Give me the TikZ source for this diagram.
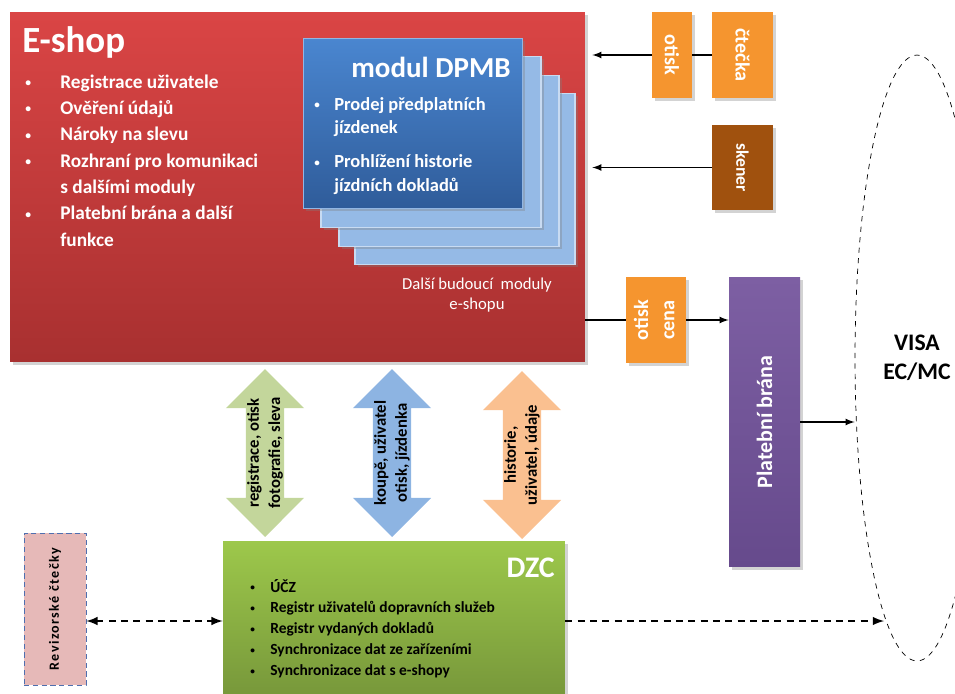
\documentclass[tikz,border=0pt]{standalone}
\usepackage{fontspec}
\setmainfont{Carlito}
\usepackage{graphicx}
\usepackage{tikz}
\usetikzlibrary{arrows}
\usetikzlibrary{shapes.geometric,shapes.arrows,shadows}

\definecolor{shopred}{HTML}{DA4545}
\definecolor{shopreddark}{HTML}{A83030}
\definecolor{dpmbblue}{HTML}{4A86D0}
\definecolor{dpmbbluedark}{HTML}{2F5C9A}
\definecolor{modblue}{HTML}{95BAE6}
\definecolor{modedge}{HTML}{C8DBF2}
\definecolor{devorange}{HTML}{F5952F}
\definecolor{devbrown}{HTML}{A0510E}
\definecolor{gatepurple}{HTML}{7D5FA3}
\definecolor{gatepurpledark}{HTML}{664A8C}
\definecolor{dzcgreen}{HTML}{9DC84B}
\definecolor{dzcgreendark}{HTML}{76963A}
\definecolor{arrgreen}{HTML}{C3D69B}
\definecolor{arrblue}{HTML}{8DB4E2}
\definecolor{arrpeach}{HTML}{FAC090}
\definecolor{revpink}{HTML}{E6B9B8}
\definecolor{revedge}{HTML}{4F6FAF}

\newcommand{\bul}{\raisebox{0.15ex}{\scalebox{0.6}{\textbullet}}}

\tikzset{
	box/.style={rectangle, inner sep=0pt, drop shadow={opacity=0.35, shadow xshift=1.5pt, shadow yshift=-1.5pt}},
	device/.style={box, fill=devorange, text=white, font=\fontsize{11.5}{15}\selectfont\bfseries},
	modul/.style={box, fill=modblue, draw=modedge, line width=1pt, minimum width=4.4cm, minimum height=3.42cm},
	blockarrow/.style={double arrow, double arrow head extend=0.4cm, minimum height=3.36cm, inner xsep=2pt, inner ysep=0.5pt, rotate=90, align=center, font=\fontsize{9.5}{12}\selectfont\bfseries},
}

\begin{document}
\begin{tikzpicture}[x=0.02cm, y=-0.02cm]
	\useasboundingbox (0,0) rectangle (955,693);
	\clip (0,0) rectangle (955,693);

	% e-shop
	\node[box, top color=shopred, bottom color=shopreddark, minimum width=11.5cm, minimum height=7cm](eshop) at (297.5,187) {};
	\node[anchor=base west, inner sep=0pt, text=white, font=\fontsize{21}{24}\selectfont\bfseries](eshoptitle) at (22,52) {E-shop};
	\node[anchor=base west, inner sep=0pt, text=white, font=\fontsize{11}{15}\selectfont\bfseries](eshoplist) at (25,88) {\begin{tabular}[t]{@{}p{0.7cm}@{}l@{}}
		\bul & Registrace uživatele\\
		\bul & Ověření údajů\\
		\bul & Nároky na slevu\\
		\bul & Rozhraní pro komunikaci\\
		& s dalšími moduly\\
		\bul & Platební brána a další\\
		& funkce
	\end{tabular}};

	% moduly
	\node[modul](mod3) at (465,179) {};
	\node[modul](mod2) at (449,161) {};
	\node[modul](mod1) at (431,142) {};
	\node[box, top color=dpmbblue, bottom color=dpmbbluedark, draw=dpmbblue!60!white, minimum width=4.38cm, minimum height=3.4cm](dpmb) at (412.5,123) {};
	\node[anchor=base east, inner sep=0pt, text=white, font=\fontsize{16.5}{20}\selectfont\bfseries](dpmbtitle) at (511,77) {modul DPMB};
	\node[anchor=base west, inner sep=0pt, text=white, font=\fontsize{10.5}{13.6}\selectfont\bfseries](dpmblist) at (314,110) {\begin{tabular}[t]{@{}p{0.4cm}@{}l@{}}
		\bul & Prodej předplatních\\
		& jízdenek\\[5.7pt]
		\bul & Prohlížení historie\\
		& jízdních dokladů
	\end{tabular}};
	\node[text=white, align=center, inner sep=0pt, font=\fontsize{9.5}{11.5}\selectfont](future) at (477,295) {Další budoucí\ \ moduly\\e-shopu};

	% zarizeni
	\node[device, minimum width=0.8cm, minimum height=1.72cm](otisk) at (672,55) {\rotatebox{-90}{otisk}};
	\node[device, minimum width=1.22cm, minimum height=1.72cm](ctecka) at (742.5,55) {\rotatebox{-90}{čtečka}};
	\node[device, fill=devbrown, minimum width=1.22cm, minimum height=1.7cm, font=\fontsize{10}{12}\selectfont\bfseries](skener) at (742.5,167.5) {\rotatebox{-90}{skener}};
	\node[device, minimum width=1.2cm, minimum height=1.72cm](otiskcena) at (656,320) {\rotatebox{90}{\begin{tabular}{@{}c@{}}otisk\\cena\end{tabular}}};
	\node[box, top color=gatepurple, bottom color=gatepurpledark, minimum width=1.42cm, minimum height=5.8cm, text=white, font=\fontsize{12.5}{15}\selectfont\bfseries](brana) at (764.5,422) {\rotatebox{90}{Platební brána}};
	\node[ellipse, draw, dashed, minimum width=2.48cm, minimum height=12.12cm, align=center, font=\fontsize{13.5}{16.5}\selectfont\bfseries](visa) at (917,358) {VISA\\EC/MC};

	% toky mezi e-shopem a DZC
	\node[blockarrow, fill=arrgreen](arrreg) at (265,453) {registrace, otisk\\fotografie, sleva};
	\node[blockarrow, fill=arrblue](arrkoupe) at (392,453) {koupě, uživatel\\otisk, jízdenka};
	\node[blockarrow, fill=arrpeach](arrhist) at (522,455) {historie,\\uživatel, údaje};

	% DZC
	\node[box, top color=dzcgreen, bottom color=dzcgreendark, minimum width=6.84cm, minimum height=3.2cm](dzc) at (394,621) {};
	\node[anchor=base east, inner sep=0pt, text=white, font=\fontsize{17}{20}\selectfont\bfseries](dzctitle) at (555,577) {DZC};
	\node[anchor=base west, inner sep=0pt, font=\fontsize{8.8}{11.9}\selectfont\bfseries](dzclist) at (250,592) {\begin{tabular}[t]{@{}p{0.4cm}@{}l@{}}
		\bul & ÚČZ\\
		\bul & Registr uživatelů dopravních služeb\\
		\bul & Registr vydaných dokladů\\
		\bul & Synchronizace dat ze zařízeními\\
		\bul & Synchronizace dat s e-shopy
	\end{tabular}};
	\node[rectangle, fill=revpink, draw=revedge, densely dashed, minimum width=1.24cm, minimum height=3.04cm, font={\fontsize{8}{10}\selectfont\bfseries\addfontfeature{LetterSpace=10}}](rev) at (55,609) {\rotatebox{90}{Revizorské čtečky}};
	\coordinate (visadzc) at (884,621);

	\draw[thick] (ctecka) -- (otisk);
	\draw[thick, -latex, shorten >=4pt] (otisk) -- (otisk -| eshop.east);
	\draw[thick, -latex, shorten >=4pt] (skener) -- (skener -| eshop.east);
	\draw[thick] (otiskcena -| eshop.east) -- (otiskcena);
	\draw[thick, -latex] (otiskcena) -- (otiskcena -| brana.west);
	\draw[thick, -latex] (brana.east) -- (brana.east -| visa.west);
	\draw[latex-latex, line width=1.2pt, dash pattern=on 4pt off 3pt] (rev.east |- dzc.west) -- (dzc.west);
	\draw[-latex, line width=1.2pt, dash pattern=on 4pt off 3pt] (dzc.east) -- (visadzc);
\end{tikzpicture}
\end{document}
